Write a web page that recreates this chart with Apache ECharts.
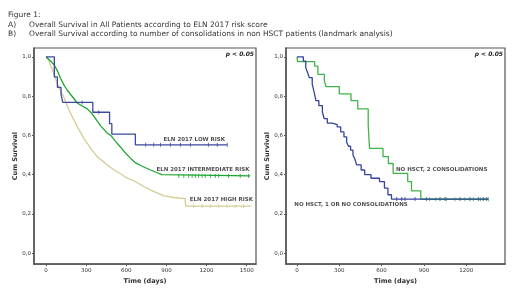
<!DOCTYPE html>
<html>
<head>
<meta charset="utf-8">
<script src="https://cdn.jsdelivr.net/npm/echarts@6/dist/echarts.min.js"></script>
<style>
  html, body { margin: 0; padding: 0; background: #fff; }
  #chart { width: 520px; height: 290px; }
</style>
</head>
<body>
<div id="chart"></div>
<script>
// Panel A: overall survival by ELN 2017 risk (time in days, cum survival)
const lowRisk = [[0,1],[62,0.898],[85,0.845],[112,0.81],[125,0.768],[350,0.718],[475,0.66],[492,0.607],[668,0.552],[1355,0.552]];
const lowRiskCens = [270,394,745,805,856,930,1005,1080,1214,1280,1355];
const interRisk = [[0,1],[25,0.985],[60,0.96],[84,0.93],[109,0.89],[134,0.856],[159,0.83],[208,0.788],[233,0.765],[270,0.75],[308,0.735],[345,0.71],[407,0.65],[457,0.612],[484,0.6],[520,0.57],[558,0.54],[600,0.505],[633,0.483],[670,0.46],[707,0.447],[782,0.424],[832,0.41],[865,0.4],[875,0.394],[1527,0.394]];
const interRiskCens = [993,1030,1067,1092,1117,1141,1167,1191,1229,1266,1291,1365,1452,1514];
const highRisk = [[0,1],[22,0.978],[47,0.936],[72,0.886],[97,0.844],[134,0.794],[159,0.75],[196,0.695],[233,0.645],[283,0.585],[333,0.535],[385,0.49],[459,0.449],[506,0.425],[558,0.405],[600,0.385],[658,0.368],[732,0.34],[782,0.322],[856,0.3],[881,0.292],[955,0.284],[1040,0.278],[1044,0.24],[1535,0.24]];
const highRiskCens = [1104,1167,1229,1291,1353,1415,1477];

// Panel B: landmark analysis, non HSCT patients
const oneOrNone = [[0,1],[45,0.978],[62,0.945],[75,0.92],[87,0.894],[108,0.861],[122,0.819],[134,0.777],[155,0.752],[180,0.719],[193,0.685],[215,0.663],[250,0.655],[285,0.643],[310,0.618],[333,0.593],[352,0.565],[365,0.545],[380,0.525],[397,0.5],[410,0.48],[423,0.45],[455,0.424],[480,0.4],[525,0.382],[585,0.365],[620,0.332],[645,0.298],[670,0.276],[1357,0.276]];
const oneOrNoneCens = [707,742,766,837,919,1014,1050,1156,1227,1286,1321,1345];
const twoCons = [[0,1],[4,0.976],[125,0.953],[148,0.911],[194,0.878],[206,0.848],[300,0.811],[383,0.777],[431,0.735],[505,0.652],[514,0.534],[610,0.492],[648,0.457],[682,0.407],[785,0.365],[812,0.318],[878,0.275],[1357,0.275]];
const twoConsCens = [940,985,1060,1120,1190,1250,1300,1357];

const ticksA = [0,300,600,900,1200,1500];
const ticksB = [0,300,600,900,1200];
const ticksY = [0,0.2,0.4,0.6,0.8,1.0];

const labelsA = [['ELN 2017 LOW RISK',1109,0.581],['ELN 2017 INTERMEDIATE RISK',1173,0.424],['ELN 2017 HIGH RISK',1311,0.273]];
const labelsB = [['NO HSCT, 2 CONSOLIDATIONS',1026,0.427],['NO HSCT, 1 OR NO CONSOLIDATIONS',383,0.246]];

const titleLines = [
  ['Figure 1:', ''],
  ['A)', 'Overall Survival in All Patients according to ELN 2017 risk score'],
  ['B)', 'Overall Survival according to number of consolidations in non HSCT patients (landmark analysis)']
];

const FONT = 'DejaVu Sans';
const AX = '#555';

function xAxisFor(idx, min, max, ticks) {
  return {
    gridIndex: idx, type: 'value', min: min, max: max,
    name: 'Time (days)', nameLocation: 'middle', nameGap: 10,
    nameTextStyle: { fontFamily: FONT, fontSize: 6.5, fontWeight: 'bold', color: '#333' },
    axisLine: { show: true, onZero: false, lineStyle: { color: AX, width: 1.5 } },
    axisTick: { show: true, length: 2, customValues: ticks, lineStyle: { color: AX } },
    axisLabel: { customValues: ticks, fontFamily: FONT, fontSize: 5.5, color: '#333', margin: 3,
      formatter: v => String(v) },
    splitLine: { show: false }
  };
}
function yAxisFor(idx) {
  return {
    gridIndex: idx, type: 'value', min: -0.055, max: 1.045,
    name: 'Cum Survival', nameLocation: 'middle', nameGap: 15,
    nameTextStyle: { fontFamily: FONT, fontSize: 6.5, fontWeight: 'bold', color: '#333' },
    axisLine: { show: true, onZero: false, lineStyle: { color: AX, width: 1.5 } },
    axisTick: { show: true, length: 2, customValues: ticksY, lineStyle: { color: AX } },
    axisLabel: { customValues: ticksY, fontFamily: FONT, fontSize: 5.5, color: '#333', margin: 3,
      formatter: v => v.toFixed(1).replace('.', ',') },
    splitLine: { show: false }
  };
}
function curve(idx, data, color, step) {
  return { type: 'line', xAxisIndex: idx, yAxisIndex: idx, data: data, step: step ? 'end' : false,
    showSymbol: false, silent: true, lineStyle: { color: color, width: 1.3 }, itemStyle: { color: color } };
}
function valueAt(data, t) {
  let v = data[0][1];
  for (const p of data) { if (p[0] <= t) v = p[1]; }
  return v;
}
function censors(idx, data, times, color) {
  return { type: 'scatter', xAxisIndex: idx, yAxisIndex: idx, symbol: 'rect', symbolSize: [1, 4],
    silent: true, itemStyle: { color: color }, data: times.map(t => [t, valueAt(data, t)]) };
}
function notes(idx, list) {
  return { type: 'scatter', xAxisIndex: idx, yAxisIndex: idx, symbolSize: 1, silent: true,
    itemStyle: { color: 'transparent' },
    label: { show: true, position: 'inside', formatter: p => p.data[2], fontFamily: FONT, fontSize: 5.5,
      fontWeight: 'bold', color: '#222' },
    data: list.map(l => [l[1], l[2], l[0]]) };
}

const graphics = [];
titleLines.forEach((ln, i) => {
  graphics.push({ type: 'text', left: 8, top: 11 + i * 9.7, style: { text: ln[0], fontFamily: FONT, fontSize: 7.5, fill: '#333' } });
  if (ln[1]) graphics.push({ type: 'text', left: 29, top: 11 + i * 9.7, style: { text: ln[1], fontFamily: FONT, fontSize: 7.5, fill: '#333' } });
});
graphics.push({ type: 'text', right: 266, top: 51, style: { text: 'p < 0.05', fontFamily: FONT, fontSize: 6, fontWeight: 'bold', fontStyle: 'italic', fill: '#222' } });
graphics.push({ type: 'text', right: 17, top: 51, style: { text: 'p < 0.05', fontFamily: FONT, fontSize: 6, fontWeight: 'bold', fontStyle: 'italic', fill: '#222' } });

const chart = echarts.init(document.getElementById('chart'), null, { renderer: 'canvas' });
chart.setOption({
  animation: false,
  backgroundColor: '#fff',
  grid: [
    { left: 34, top: 48, width: 222, height: 219, show: true, borderColor: AX, borderWidth: 1.2, backgroundColor: '#fff' },
    { left: 286, top: 48, width: 219, height: 219, show: true, borderColor: AX, borderWidth: 1.2, backgroundColor: '#fff' }
  ],
  xAxis: [xAxisFor(0, -90, 1570, ticksA), xAxisFor(1, -78, 1475, ticksB)],
  yAxis: [yAxisFor(0), yAxisFor(1)],
  graphic: graphics,
  series: [
    curve(0, highRisk, '#d5cb94', false),
    curve(0, interRisk, '#1ea632', false),
    curve(0, lowRisk, '#3b4a9e', true),
    censors(0, highRisk, highRiskCens, '#d5cb94'),
    censors(0, interRisk, interRiskCens, '#1ea632'),
    censors(0, lowRisk, lowRiskCens, '#3b4a9e'),
    notes(0, labelsA),
    curve(1, twoCons, '#3db54b', true),
    curve(1, oneOrNone, '#3443a0', true),
    censors(1, twoCons, twoConsCens, '#3db54b'),
    censors(1, oneOrNone, oneOrNoneCens, '#3443a0'),
    notes(1, labelsB)
  ]
});
</script>
</body>
</html>
